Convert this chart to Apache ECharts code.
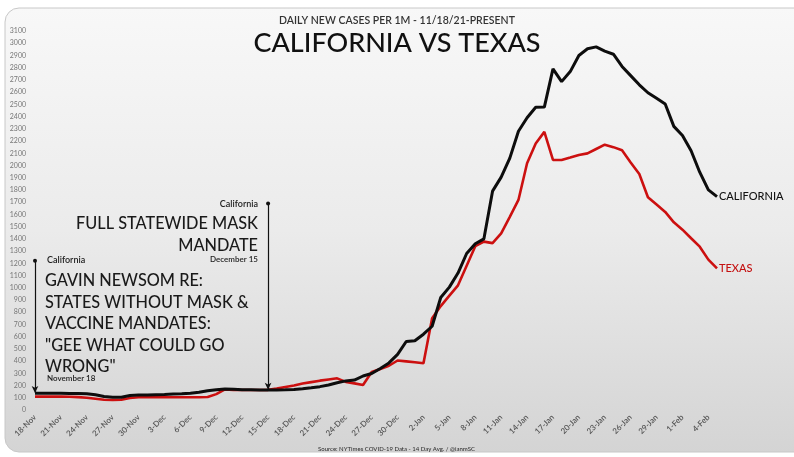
<!DOCTYPE html>
<html>
<head>
<meta charset="utf-8">
<script src="https://cdn.jsdelivr.net/npm/echarts@6/dist/echarts.min.js"></script>
<style>
html,body{margin:0;padding:0;background:#fff;}
#chart{width:794px;height:457px;}
</style>
</head>
<body>
<div id="chart"></div>
<script>
var dates = [
 '18-Nov','19-Nov','20-Nov','21-Nov','22-Nov','23-Nov','24-Nov','25-Nov','26-Nov','27-Nov','28-Nov','29-Nov','30-Nov',
 '1-Dec','2-Dec','3-Dec','4-Dec','5-Dec','6-Dec','7-Dec','8-Dec','9-Dec','10-Dec','11-Dec','12-Dec','13-Dec','14-Dec','15-Dec','16-Dec','17-Dec','18-Dec','19-Dec','20-Dec','21-Dec','22-Dec','23-Dec','24-Dec','25-Dec','26-Dec','27-Dec','28-Dec','29-Dec','30-Dec','31-Dec',
 '1-Jan','2-Jan','3-Jan','4-Jan','5-Jan','6-Jan','7-Jan','8-Jan','9-Jan','10-Jan','11-Jan','12-Jan','13-Jan','14-Jan','15-Jan','16-Jan','17-Jan','18-Jan','19-Jan','20-Jan','21-Jan','22-Jan','23-Jan','24-Jan','25-Jan','26-Jan','27-Jan','28-Jan','29-Jan','30-Jan','31-Jan',
 '1-Feb','2-Feb','3-Feb','4-Feb','5-Feb'
];
var california = [
 137,137,137,137,135,135,132,125,110,104,104,118,123,123,125,127,130,133,137,145,
 158,166,172,170,166,165,164,164,164,165,168,174,182,191,205,223,238,245,278,298,
 340,385,455,560,566,620,685,920,1005,1120,1280,1360,1400,1790,1905,2060,2280,2390,2476,2478,
 2790,2686,2768,2900,2955,2970,2935,2910,2810,2735,2660,2595,2550,2503,2320,2245,2120,1945,1800,1745
];
var texas = [
 109,109,109,109,108,105,100,92,84,82,84,98,104,104,104,104,104,104,104,104,
 106,130,168,165,164,164,164,165,175,188,200,216,228,240,250,259,230,218,205,310,
 335,362,405,398,390,382,750,850,935,1020,1180,1340,1377,1365,1445,1580,1718,2018,2180,2275,
 2045,2045,2065,2086,2099,2135,2170,2150,2125,2025,1930,1740,1680,1620,1535,1475,1405,1336,1230,1159
];
var seriesNames = ['CALIFORNIA','TEXAS'];
var annoDates = ['18-Nov','15-Dec'];
var annoTop = [1220, 1690];
var annoBottom = [140, 165];

var FONT = 'Lato, "Noto Sans", sans-serif';
var chart = echarts.init(document.getElementById('chart'), null, {renderer:'canvas'});
function markPair(i){
  return [
    {coord:[annoDates[i], annoTop[i]], symbol:'circle', symbolSize:4},
    {coord:[annoDates[i], annoBottom[i]], symbol:'arrow', symbolSize:[5,7]}
  ];
}
var option = {
  animation:false,
  backgroundColor:'#ffffff',
  graphic:[
    {type:'rect', z:-10, shape:{x:5, y:8, width:820, height:444, r:14},
     style:{fill:new echarts.graphic.LinearGradient(0,0,0,1,[{offset:0,color:'#f8f8f8'},{offset:0.5,color:'#ebebeb'},{offset:1,color:'#d4d4d4'}]), stroke:'#c8c8c8', lineWidth:1}},
    {type:'text', left:'center', top:15, style:{text:'DAILY NEW CASES PER 1M - 11/18/21-PRESENT', font:'600 10.5px '+FONT, fill:'#333'}},
    {type:'text', left:'center', top:30, style:{text:'CALIFORNIA VS TEXAS', font:'500 27px '+FONT, fill:'#111'}},
    {type:'text', left:47, top:256, style:{text:'California', font:'600 9px '+FONT, fill:'#222'}},
    {type:'text', left:45, top:270, style:{text:'GAVIN NEWSOM RE:\nSTATES WITHOUT MASK &\nVACCINE MANDATES:\n"GEE WHAT COULD GO\nWRONG"', font:'500 16.3px '+FONT, fill:'#1a1a1a', lineHeight:21.5}},
    {type:'text', left:47, top:374, style:{text:'November 18', font:'600 8px '+FONT, fill:'#222'}},
    {type:'text', x:258, y:200, style:{text:'California', font:'600 9px '+FONT, fill:'#222', align:'right'}},
    {type:'text', x:258, y:213, style:{text:'FULL STATEWIDE MASK\nMANDATE', font:'500 16.3px '+FONT, fill:'#1a1a1a', lineHeight:21.5, align:'right'}},
    {type:'text', x:258, y:255, style:{text:'December 15', font:'600 8px '+FONT, fill:'#222', align:'right'}},
    {type:'text', left:318, top:446, style:{text:'Source: NYTimes COVID-19 Data - 14 Day Avg. / @ianmSC', font:'500 6px '+FONT, fill:'#333'}}
  ],
  grid:{left:35, right:77, top:31, bottom:47},
  xAxis:{
    type:'category', data:dates, boundaryGap:false,
    axisLine:{show:false}, axisTick:{show:false}, splitLine:{show:false},
    axisLabel:{interval:2, rotate:45, fontSize:8, fontWeight:600, color:'#555', fontFamily:FONT, margin:6}
  },
  yAxis:{
    type:'value', min:0, max:3100, interval:100,
    axisLine:{show:false}, axisTick:{show:false}, splitLine:{show:false},
    axisLabel:{fontSize:7, color:'#777', fontFamily:FONT, margin:9, formatter:function(v){return String(v);}}
  },
  series:[
    {name:seriesNames[0], type:'line', data:california, symbol:'none', z:3,
     lineStyle:{color:'#0d0d0d', width:3},
     endLabel:{show:true, formatter:'{a}', color:'#111', fontSize:11, fontFamily:FONT, fontWeight:500, distance:2},
     markLine:{silent:true, label:{show:false}, lineStyle:{color:'#111', width:1.2, type:'solid'},
       data:[markPair(0), markPair(1)]}
    },
    {name:seriesNames[1], type:'line', data:texas, symbol:'none', z:2,
     lineStyle:{color:'#cc1010', width:2.6},
     endLabel:{show:true, formatter:'{a}', color:'#c41010', fontSize:11, fontFamily:FONT, fontWeight:500, distance:2}
    }
  ]
};
chart.setOption(option);
</script>
</body>
</html>
